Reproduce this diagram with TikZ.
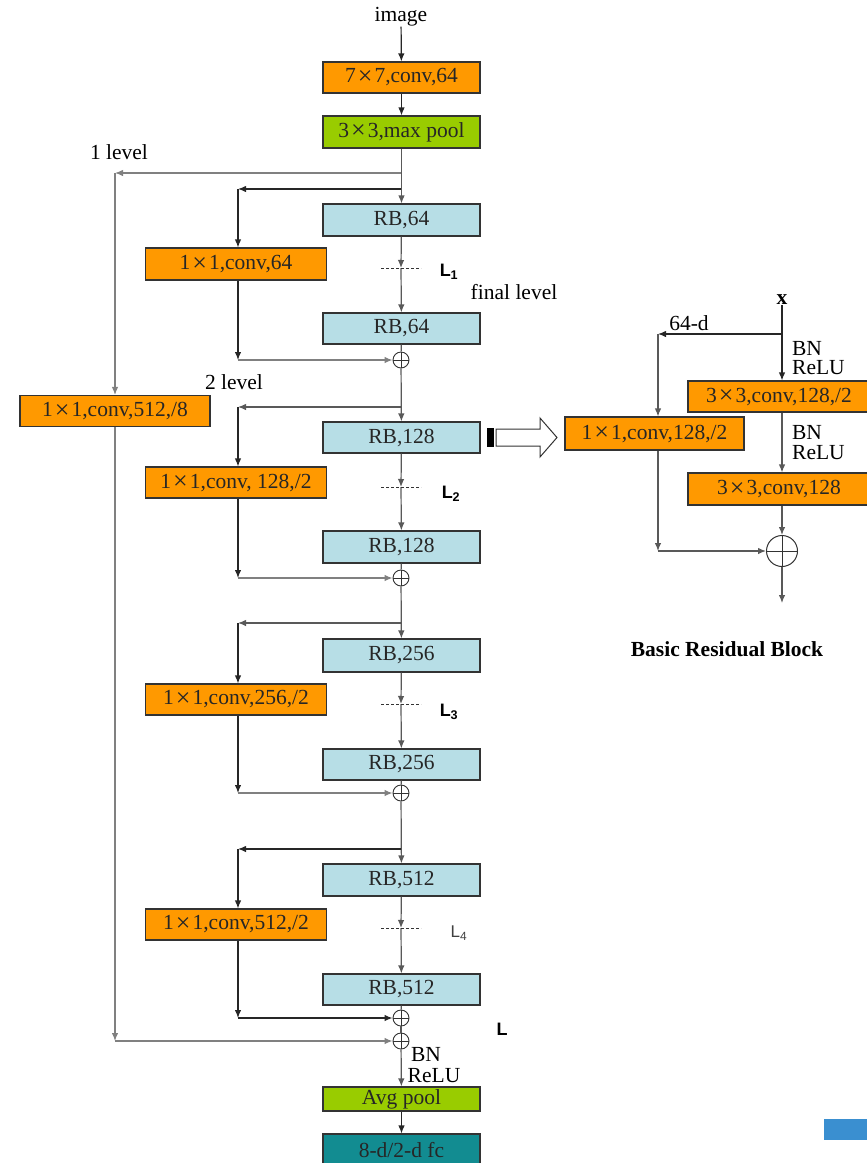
\documentclass[tikz,border=0pt]{standalone}
\usepackage{fontspec}
\setmainfont{Liberation Serif}
\newfontfamily\lsans{Liberation Sans}
\usetikzlibrary{arrows.meta}
\definecolor{orng}{RGB}{255,153,0}
\definecolor{grn}{RGB}{153,204,0}
\definecolor{lblue}{RGB}{183,222,230}
\definecolor{tealc}{RGB}{18,140,145}
\definecolor{blu}{RGB}{58,143,208}
\newcommand\tms{\hspace{2pt}\raisebox{-1.8pt}{\fontsize{26}{24}\selectfont ×}\hspace{2pt}}
\begin{document}
\begin{tikzpicture}[x=1pt,y=-1pt,
  font=\fontsize{21.5}{24}\selectfont,
  box/.style={draw=black!80, line width=1.1pt, minimum width=157pt, minimum height=31pt, inner sep=0pt, text=black!85},
  rb/.style={box, fill=lblue},
  oc/.style={box, fill=orng, minimum width=181pt},
  gp/.style={box, fill=grn},
  sumc/.style={circle, draw=black!80, line width=0.9pt, minimum size=16pt, inner sep=0pt,
    path picture={\draw[line width=0.9pt,black!80] (path picture bounding box.north) -- (path picture bounding box.south)
      (path picture bounding box.west) -- (path picture bounding box.east);}},
  bl/.style={draw=black!85, line width=1.2pt},
  gl/.style={draw=black!50, line width=1.2pt},
  arr/.style={-{Latex[length=8pt,width=6.5pt]}},
  lab/.style={inner sep=0pt},
  lfont/.style={font=\lsans\bfseries\fontsize{18}{20}\selectfont, inner sep=0pt},
  dots/.style={draw=black!80, line width=1pt, dash pattern=on 2.5pt off 2.5pt}
]
\useasboundingbox (0,0) rectangle (867,1163);

% ---------- main column ----------
\node[lab] (img) at (401,17) {image};
\node[oc, minimum width=157pt] (c7) at (401.5,77.5) {7\tms7,conv,64};
\node[gp, minimum height=32pt] (mp) at (401.5,132) {3\tms3,max pool};
\node[lab] at (119,152) {1 level};

\node[rb, minimum height=32pt] (r1a) at (401.5,220) {RB,64};
\node[oc, minimum height=32pt] (c64) at (236,264) {1\tms1,conv,64};
\node[rb] (r1b) at (401.5,328.5) {RB,64};
\node[sumc] (s1) at (401,360) {};
\node[lab] at (234,382) {2 level};

\node[oc, minimum width=190pt] (c512) at (115,411) {1\tms1,conv,512,/8};
\node[rb] (r2a) at (401.5,437.5) {RB,128};
\node[oc, minimum height=31pt] (c128) at (236,482.5) {1\tms1,conv, 128,/2};
\node[rb, minimum height=32pt] (r2b) at (401.5,547) {RB,128};
\node[sumc] (s2) at (401,578) {};

\node[rb, minimum height=33pt] (r3a) at (401.5,655.5) {RB,256};
\node[oc] (c256) at (236,699.5) {1\tms1,conv,256,/2};
\node[rb] (r3b) at (401.5,764.5) {RB,256};
\node[sumc] (s3) at (401,793) {};

\node[rb, minimum height=32pt] (r4a) at (401.5,880) {RB,512};
\node[oc] (c512b) at (236,924.5) {1\tms1,conv,512,/2};
\node[rb] (r4b) at (401.5,989.5) {RB,512};
\node[sumc] (s4) at (401,1018) {};
\node[sumc] (s5) at (401,1041) {};

\node[gp, minimum height=24pt] (avg) at (401.5,1099) {Avg pool};
\node[box, fill=tealc, minimum height=32pt] (fc) at (401.5,1150) {8-d/2-d fc};

% labels L
\node[lfont] at (449,272) {L\textsubscript{1}};
\node[lab] at (514,292) {final level};
\node[lfont] at (451,494) {L\textsubscript{2}};
\node[lfont] at (449,712) {L\textsubscript{3}};
\node[lab, font=\lsans\fontsize{17}{20}\selectfont, text=black!75] at (459,933) {L\textsubscript{4}};
\node[lfont] at (502,1029) {L};
\node[lab] at (426,1054) {BN};
\node[lab] at (434,1076) {ReLU};

% coordinates
\coordinate (g1) at (401,173);
\coordinate (g1l) at (115,173);
\coordinate (g1e) at (115,1041);
\coordinate (b1) at (401,189);
\coordinate (b1l) at (238,189);
\coordinate (b1e) at (238,360);
\coordinate (d1) at (401,268);
\coordinate (b2) at (401,407);
\coordinate (b2l) at (238,407);
\coordinate (b2e) at (238,578);
\coordinate (d2) at (401,487);
\coordinate (b3) at (401,623);
\coordinate (b3l) at (238,623);
\coordinate (b3e) at (238,793);
\coordinate (d3) at (401,704);
\coordinate (b4) at (401,849);
\coordinate (b4l) at (238,849);
\coordinate (b4e) at (238,1018);
\coordinate (d4) at (401,928);

% spine
\draw[bl,arr] (img) -- (c7);
\draw[bl,arr] (c7) -- (mp);
\draw[gl,draw=black!65,arr] (mp) -- (r1a);
\draw[gl,draw=black!65,arr] (r1a) -- (d1);
\draw[gl,draw=black!65,arr] (d1) -- (r1b);
\draw[gl,draw=black!65] (r1b) -- (s1);
\draw[gl,draw=black!65,arr] (s1) -- (r2a);
\draw[gl,draw=black!65,arr] (r2a) -- (d2);
\draw[gl,draw=black!65,arr] (d2) -- (r2b);
\draw[gl,draw=black!65] (r2b) -- (s2);
\draw[gl,draw=black!65,arr] (s2) -- (r3a);
\draw[gl,draw=black!65,arr] (r3a) -- (d3);
\draw[gl,draw=black!65,arr] (d3) -- (r3b);
\draw[gl,draw=black!65] (r3b) -- (s3);
\draw[gl,draw=black!65,arr] (s3) -- (r4a);
\draw[gl,draw=black!65,arr] (r4a) -- (d4);
\draw[gl,draw=black!65,arr] (d4) -- (r4b);
\draw[gl,draw=black!65] (r4b) -- (s4);
\draw[gl,draw=black!65] (s4) -- (s5);
\draw[gl,draw=black!65,arr] (s5) -- (avg);
\draw[bl,arr] (avg) -- (fc);

% dotted marks
\draw[dots] (381,268) -- (421,268);
\draw[dots] (381,487) -- (421,487);
\draw[dots] (381,704) -- (421,704);
\draw[dots] (381,928) -- (421,928);

% level 1 (long skip)
\draw[gl,arr] (g1) -- (g1l);
\draw[gl,arr] (g1l) -- (c512);
\draw[gl,arr] (c512) -- (g1e);
\draw[gl,arr] (g1e) -- (s5);

% branch 1
\draw[bl,arr] (b1) -- (b1l);
\draw[bl,arr] (b1l) -- (b1l |- c64.north);
\draw[bl,arr] (b1l |- c64.south) -- (b1e);
\draw[gl,arr] (b1e) -- (s1);
% branch 2
\draw[gl,draw=black!65,arr] (b2) -- (b2l);
\draw[bl,arr] (b2l) -- (b2l |- c128.north);
\draw[bl,arr] (b2l |- c128.south) -- (b2e);
\draw[gl,arr] (b2e) -- (s2);
% branch 3
\draw[gl,draw=black!65,arr] (b3) -- (b3l);
\draw[bl,arr] (b3l) -- (b3l |- c256.north);
\draw[bl,arr] (b3l |- c256.south) -- (b3e);
\draw[gl,arr] (b3e) -- (s3);
% branch 4
\draw[bl,arr] (b4) -- (b4l);
\draw[bl,arr] (b4l) -- (b4l |- c512b.north);
\draw[bl,arr] (b4l |- c512b.south) -- (b4e);
\draw[bl,arr] (b4e) -- (s4);

% hollow arrow
\fill[black] (487,428) rectangle (494,447);
\draw[black!80, line width=1pt, fill=white] (496,429) -- (540,429) -- (540,418) -- (557,437.5) -- (540,457) -- (540,446) -- (496,446) -- cycle;

% ---------- basic residual block ----------
\node[lab, font=\bfseries\fontsize{21.5}{24}\selectfont] (xl) at (782,300) {x};
\node[oc, minimum width=182pt] (q1) at (779,396.5) {3\tms3,conv,128,/2};
\node[oc, minimum width=179pt, minimum height=33pt] (q2) at (654.5,433.5) {1\tms1,conv,128,/2};
\node[oc, minimum width=182pt, minimum height=32pt] (q3) at (779,489) {3\tms3,conv,128};
\node[circle, draw=black!80, line width=1pt, minimum size=31pt, inner sep=0pt,
  path picture={\draw[line width=1pt,black!80] (path picture bounding box.north) -- (path picture bounding box.south)
      (path picture bounding box.west) -- (path picture bounding box.east);}] (qs) at (782,551) {};
\node[lab] at (689,323) {64-d};
\node[lab] at (807,348) {BN};
\node[lab, anchor=west] at (792,368) {ReLU};
\node[lab] at (807,432) {BN};
\node[lab, anchor=west] at (792,453) {ReLU};
\node[lab, font=\bfseries\fontsize{21.5}{24}\selectfont] at (727,649) {Basic Residual Block};

\coordinate (qb) at (782,334);
\coordinate (qbl) at (658,334);
\coordinate (qbe) at (658,551);
\coordinate (qout) at (782,603);
\draw[bl] (xl) -- (qb);
\draw[bl,arr] (qb) -- (qb |- q1.north);
\draw[bl,arr] (qb) -- (qbl);
\draw[gl,draw=black!65,arr] (qbl) -- (qbl |- q2.north);
\draw[gl,draw=black!65,arr] (qbl |- q2.south) -- (qbe);
\draw[gl,draw=black!65,arr] (qbe) -- (qs);
\draw[gl,draw=black!65,arr] (qb |- q1.south) -- (qb |- q3.north);
\draw[gl,draw=black!65,arr] (qb |- q3.south) -- (qs);
\draw[gl,draw=black!65,arr] (qs) -- (qout);

% corner mark
\fill[blu] (824,1119) rectangle (867,1140);
\end{tikzpicture}
\end{document}
